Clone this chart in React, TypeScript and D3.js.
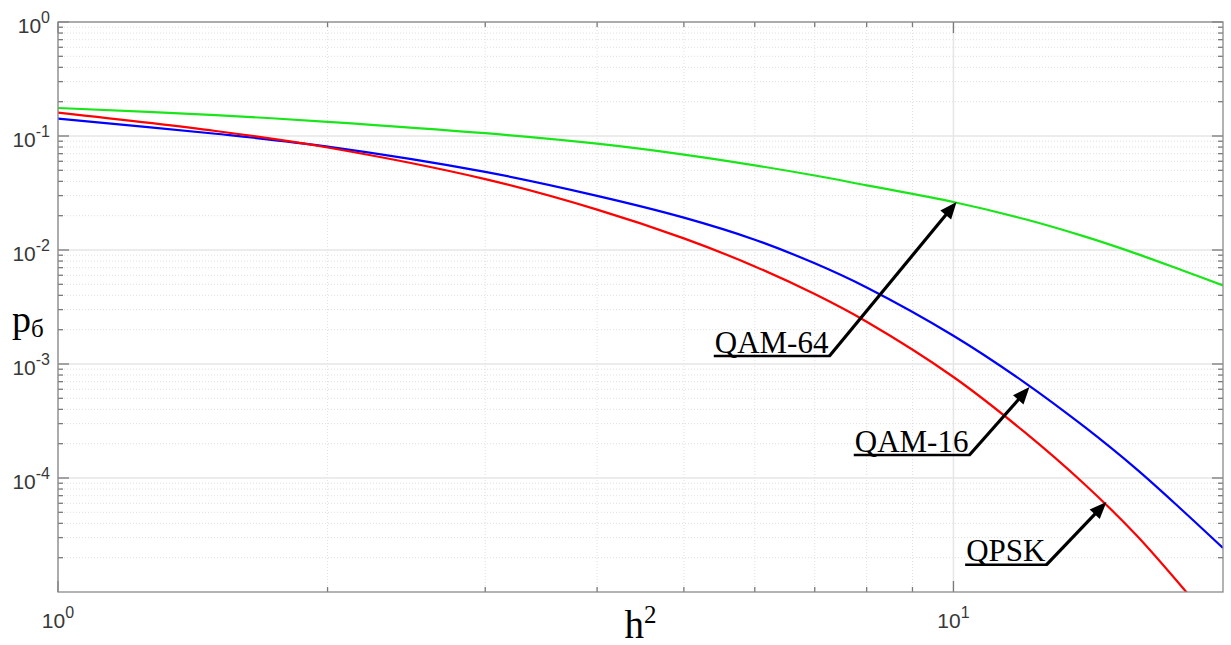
import React, { useEffect, useRef } from "react";
import * as d3 from "d3";

const hValues = [1, 1.5, 2, 3, 4, 5, 6, 7, 8, 10, 12, 14, 16, 18, 20];

// error probability p_б for each modulation
const qpsk = [0.1601, 0.1106, 0.0793, 0.04186, 0.02262, 0.01264, 0.00718, 0.004103, 0.002346, 7.69e-4, 2.537e-4, 8.86e-5, 3.162e-5, 1.106e-5, 4.1e-6];
const qam16 = [0.1418, 0.1047, 0.0807, 0.04842, 0.02988, 0.01924, 0.01232, 0.00764, 0.00469, 0.00177, 6.91e-4, 2.818e-4, 1.202e-4, 5.24e-5, 2.43e-5];
const qam64 = [0.176, 0.1525, 0.1332, 0.1058, 0.0856, 0.0687, 0.0553, 0.045, 0.0369, 0.02637, 0.0187, 0.01316, 0.0093, 0.00665, 0.00489];

const yTickExps = [0, -1, -2, -3, -4];
const xTickExps = [0, 1];

// annotation labels: tail (end of underline) and arrow tip, in data units
const labels = ["QAM-64", "QAM-16", "QPSK"];
const labelTails = [[7.27, 1.175e-3], [10.42, 1.59e-4], [12.7, 1.73e-5]];
const labelTips = [[10.08, 0.0264], [12.16, 6.28e-4], [14.82, 6.16e-5]];

const App = () => {
  const svgRef = useRef<SVGSVGElement>(null);

  useEffect(() => {
    const width = 1231;
    const height = 645;
    const margin = { top: 22, right: 8, bottom: 53, left: 58 };

    const svg = d3.select(svgRef.current);
    svg.selectAll("*").remove();

    const x = d3.scaleLog().domain([1, 20]).range([margin.left, width - margin.right]);
    const y = d3.scaleLog().domain([1e-5, 1]).range([height - margin.bottom, margin.top]);
    const [x0, x1] = x.range();
    const [y0, y1] = y.range();

    svg.append("rect").attr("width", width).attr("height", height).attr("fill", "#fff");

    // grid
    const xMinor = [2, 3, 4, 5, 6, 7, 8, 9];
    const yMinor: number[] = [];
    for (let e = -5; e < 0; e++) for (let m = 2; m <= 9; m++) yMinor.push(m * Math.pow(10, e));

    const grid = svg.append("g");
    grid.selectAll(".ymin").data(yMinor).join("line")
      .attr("x1", x0).attr("x2", x1)
      .attr("y1", (d) => y(d)).attr("y2", (d) => y(d))
      .attr("stroke", "#e0e0e0").attr("stroke-width", 1).attr("stroke-dasharray", "1 2");
    grid.selectAll(".xmin").data(xMinor).join("line")
      .attr("x1", (d) => x(d)).attr("x2", (d) => x(d))
      .attr("y1", y0).attr("y2", y1)
      .attr("stroke", "#e0e0e0").attr("stroke-width", 1).attr("stroke-dasharray", "1 2");
    grid.selectAll(".ymaj").data(yTickExps).join("line")
      .attr("x1", x0).attr("x2", x1)
      .attr("y1", (d) => y(Math.pow(10, d))).attr("y2", (d) => y(Math.pow(10, d)))
      .attr("stroke", "#e6e6e6").attr("stroke-width", 1.5);
    grid.selectAll(".xmaj").data(xTickExps).join("line")
      .attr("x1", (d) => x(Math.pow(10, d))).attr("x2", (d) => x(Math.pow(10, d)))
      .attr("y1", y0).attr("y2", y1)
      .attr("stroke", "#e6e6e6").attr("stroke-width", 1.5);

    // ticks (inside, both sides)
    const tickColor = "#7a7a7a";
    const ticks = svg.append("g").attr("stroke", tickColor).attr("stroke-width", 1.3);
    const yAll = [...yTickExps.map((e) => ({ v: Math.pow(10, e), len: 11 })), ...yMinor.map((v) => ({ v, len: 5 }))];
    yAll.forEach(({ v, len }) => {
      ticks.append("line").attr("x1", x0).attr("x2", x0 + len).attr("y1", y(v)).attr("y2", y(v));
      ticks.append("line").attr("x1", x1).attr("x2", x1 - len).attr("y1", y(v)).attr("y2", y(v));
    });
    const xAll = [...xTickExps.map((e) => ({ v: Math.pow(10, e), len: 11 })), ...xMinor.map((v) => ({ v, len: 5 }))];
    xAll.forEach(({ v, len }) => {
      ticks.append("line").attr("x1", x(v)).attr("x2", x(v)).attr("y1", y0).attr("y2", y0 - len);
      ticks.append("line").attr("x1", x(v)).attr("x2", x(v)).attr("y1", y1).attr("y2", y1 + len);
    });

    // curves
    const line = d3.line<[number, number]>()
      .x((d) => x(d[0]))
      .y((d) => y(d[1]))
      .curve(d3.curveCatmullRom.alpha(0.5));

    svg.append("clipPath").attr("id", "plotclip")
      .append("rect").attr("x", x0).attr("y", y1).attr("width", x1 - x0).attr("height", y0 - y1);

    const series = [
      { values: qam64, color: "#19e619" },
      { values: qam16, color: "#0000ff" },
      { values: qpsk, color: "#ff0000" },
    ];
    series.forEach(({ values, color }) => {
      svg.append("path")
        .datum(hValues.map((h, i) => [h, values[i]] as [number, number]))
        .attr("d", line)
        .attr("clip-path", "url(#plotclip)")
        .attr("fill", "none")
        .attr("stroke", color)
        .attr("stroke-width", 2.2);
    });

    // box
    svg.append("rect")
      .attr("x", x0).attr("y", y1).attr("width", x1 - x0).attr("height", y0 - y1)
      .attr("fill", "none").attr("stroke", "#8a8a8a").attr("stroke-width", 1.3);

    // tick labels
    const sans = "'Liberation Sans', Arial, Helvetica, sans-serif";
    yTickExps.forEach((e) => {
      const t = svg.append("text")
        .attr("x", x0 - 8).attr("y", y(Math.pow(10, e)) + 11)
        .attr("text-anchor", "end").attr("font-family", sans).attr("font-size", 21).attr("fill", "#383838");
      t.append("tspan").text("10");
      t.append("tspan").attr("font-size", 16).attr("dy", -10).text(String(e));
    });
    xTickExps.forEach((e) => {
      const t = svg.append("text")
        .attr("x", x(Math.pow(10, e))).attr("y", 628)
        .attr("text-anchor", "middle").attr("font-family", sans).attr("font-size", 21).attr("fill", "#383838");
      t.append("tspan").text("10");
      t.append("tspan").attr("font-size", 16).attr("dy", -10).text(String(e));
    });

    // axis labels
    const serif = "'Liberation Serif', 'Times New Roman', serif";
    const xl = svg.append("text")
      .attr("x", (x0 + x1) / 2).attr("y", 638)
      .attr("text-anchor", "middle").attr("font-family", serif).attr("font-size", 39).attr("fill", "#000");
    xl.append("tspan").text("h");
    xl.append("tspan").attr("font-size", 25).attr("dy", -15).text("2");

    const yl = svg.append("text")
      .attr("x", 12).attr("y", 332)
      .attr("font-family", serif).attr("font-size", 38).attr("fill", "#000");
    yl.append("tspan").text("p");
    yl.append("tspan").attr("font-size", 25).attr("dy", 5).text("б");

    // annotations
    labels.forEach((label, i) => {
      const tx = x(labelTails[i][0]);
      const ty = y(labelTails[i][1]);
      const px = x(labelTips[i][0]);
      const py = y(labelTips[i][1]);

      const txt = svg.append("text")
        .attr("x", tx - 1).attr("y", ty - 3.5)
        .attr("text-anchor", "end").attr("font-family", serif).attr("font-size", 31).attr("fill", "#000")
        .text(label);
      const w = (txt.node() as SVGTextElement).getComputedTextLength();

      svg.append("line")
        .attr("x1", tx - w - 2).attr("x2", tx + 1).attr("y1", ty).attr("y2", ty)
        .attr("stroke", "#000").attr("stroke-width", 2.5);

      const dx = px - tx;
      const dy = py - ty;
      const len = Math.hypot(dx, dy);
      const ux = dx / len;
      const uy = dy / len;
      const headLen = 17;
      const headW = 7;
      const bx = px - ux * headLen;
      const by = py - uy * headLen;

      svg.append("line")
        .attr("x1", tx).attr("y1", ty).attr("x2", bx + ux * 2).attr("y2", by + uy * 2)
        .attr("stroke", "#000").attr("stroke-width", 3.2);
      svg.append("polygon")
        .attr("points", [
          [px, py],
          [bx - uy * headW, by + ux * headW],
          [bx + uy * headW, by - ux * headW],
        ].map((p) => p.join(",")).join(" "))
        .attr("fill", "#000");
    });
  }, []);

  return (
    <svg
      ref={svgRef}
      width={1231}
      height={645}
      style={{ position: "absolute", left: 0, top: 0, display: "block" }}
    />
  );
};

export default App;
